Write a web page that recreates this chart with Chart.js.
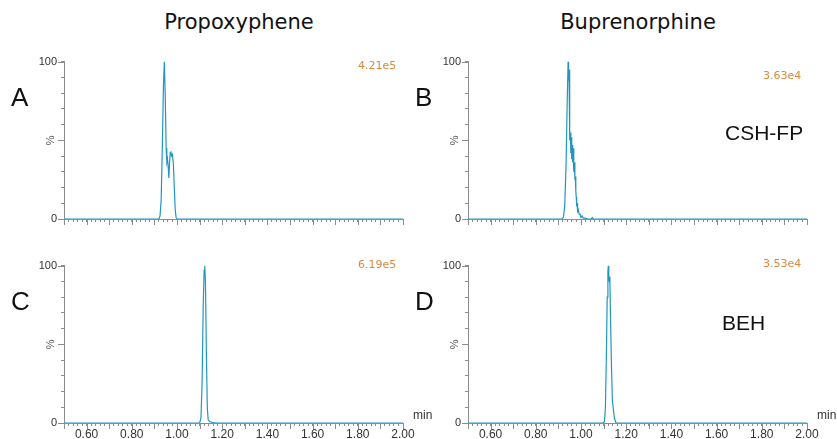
<!DOCTYPE html>
<html>
<head>
<meta charset="utf-8">
<script src="https://cdn.jsdelivr.net/npm/chart.js@4.4.1/dist/chart.umd.min.js"></script>
<style>
  body { margin: 0; background: #fff; width: 837px; height: 439px; overflow: hidden; position: relative; }
  .box { position: absolute; width: 420px; height: 184px; }
  .txt { position: absolute; white-space: nowrap; line-height: 1; }
  .head { font-family: "DejaVu Sans", sans-serif; font-size: 21px; color: #111; width: 220px; text-align: center; }
  .letter { font-family: "Liberation Sans", Arial, sans-serif; font-size: 26px; color: #111; }
  .col { font-family: "Liberation Sans", Arial, sans-serif; font-size: 21px; color: #111; }
  .inten { font-family: "DejaVu Sans", sans-serif; font-size: 11px; color: #d98a3d; }
  .min { font-family: "Liberation Sans", Arial, sans-serif; font-size: 12px; color: #333; }
</style>
</head>
<body>
<div class="box" style="left:0;top:51px"><canvas id="chartA"></canvas></div>
<div class="box" style="left:404px;top:51px"><canvas id="chartB"></canvas></div>
<div class="box" style="left:0;top:255px"><canvas id="chartC"></canvas></div>
<div class="box" style="left:404px;top:255px"><canvas id="chartD"></canvas></div>

<div class="txt head" style="left:129px;top:12px">Propoxyphene</div>
<div class="txt head" style="left:528px;top:12px">Buprenorphine</div>
<div class="txt letter" style="left:11px;top:84px">A</div>
<div class="txt letter" style="left:415px;top:84px">B</div>
<div class="txt letter" style="left:11px;top:288px">C</div>
<div class="txt letter" style="left:415px;top:288px">D</div>
<div class="txt col" style="left:725px;top:122px">CSH-FP</div>
<div class="txt col" style="left:722px;top:312px">BEH</div>
<div class="txt inten" style="left:358px;top:60px">4.21e5</div>
<div class="txt inten" style="left:763px;top:70px">3.63e4</div>
<div class="txt inten" style="left:358px;top:259px">6.19e5</div>
<div class="txt inten" style="left:763px;top:258px">3.53e4</div>
<div class="txt min" style="left:413px;top:409px">min</div>
<div class="txt min" style="left:817px;top:409px">min</div>

<script>
// retention time (min) and relative intensity (%) for each trace
const timeA = [0.50, 0.90, 0.920, 0.925, 0.930, 0.935, 0.940, 0.944, 0.948, 0.952, 0.955, 0.958, 0.961, 0.964, 0.967, 0.970, 0.973, 0.976, 0.980, 0.984, 0.988, 0.992, 0.996, 1.000, 1.05, 2.00];
const propoxCSH = [0, 0, 0, 2, 12, 45, 85, 100, 78, 45, 36, 38, 33, 26, 36, 42, 43, 40, 41, 35, 20, 6, 1, 0, 0, 0];

const timeB = [0.50, 0.915, 0.922, 0.928, 0.934, 0.939, 0.943, 0.945, 0.947, 0.949, 0.951, 0.953, 0.955, 0.957, 0.959, 0.961, 0.963, 0.965, 0.967, 0.969, 0.971, 0.973, 0.975, 0.977, 0.979, 0.981, 0.983, 0.985, 0.988, 0.992, 0.996, 1.000, 1.005, 1.010, 1.020, 1.030, 1.045, 1.050, 1.055, 1.070, 1.100, 2.00];
const bupreCSH = [0, 0, 1, 8, 35, 75, 100, 88, 95, 70, 50, 55, 42, 52, 38, 47, 36, 45, 38, 30, 36, 25, 27, 18, 14, 8, 10, 5, 6, 3, 3, 1, 2, 0.5, 0.5, 0, 0, 0.8, 0, 0, 0, 0];

const timeC = [0.50, 1.100, 1.106, 1.111, 1.116, 1.120, 1.123, 1.126, 1.130, 1.134, 1.138, 1.145, 1.160, 1.180, 2.00];
const propoxBEH = [0, 0, 3, 25, 75, 97, 100, 88, 45, 10, 2, 0.8, 0.3, 0, 0];

const timeD = [0.50, 1.098, 1.104, 1.108, 1.112, 1.116, 1.119, 1.121, 1.123, 1.125, 1.128, 1.131, 1.135, 1.139, 1.143, 1.148, 1.155, 2.00];
const bupreBEH = [0, 0, 1, 10, 40, 80, 96, 100, 90, 93, 88, 65, 35, 14, 9, 3, 0, 0];

const xMajor = [0.5, 0.6, 0.7, 0.8, 0.9, 1.0, 1.1, 1.2, 1.3, 1.4, 1.5, 1.6, 1.7, 1.8, 1.9, 2.0];
const yMajor = [0, 50, 100];

const LINE = '#2196bd';
const AXIS = '#8c8c8c';

// longer marks for the major ticks
const majorTicks = {
    id: 'majorTicks',
    afterDraw(chart) {
        const ctx = chart.ctx, a = chart.chartArea;
        const xs = chart.scales.x, ys = chart.scales.y;
        ctx.save();
        ctx.strokeStyle = AXIS;
        ctx.lineWidth = 1;
        ctx.beginPath();
        xMajor.forEach(v => {
            let px = Math.round(xs.getPixelForValue(v)) + 0.5;
            ctx.moveTo(px, a.bottom);
            ctx.lineTo(px, a.bottom + 6);
        });
        yMajor.forEach(v => {
            let py = Math.round(ys.getPixelForValue(v)) + 0.5;
            ctx.moveTo(a.left - 6, py);
            ctx.lineTo(a.left, py);
        });
        ctx.stroke();
        ctx.restore();
    }
};

function makeChart(id, times, values, showLabels) {
    let pts = times.map((t, i) => ({ x: t, y: values[i] }));
    new Chart(document.getElementById(id), {
        type: 'line',
        data: { datasets: [{ data: pts, borderColor: LINE, borderWidth: 1.2, pointRadius: 0, tension: 0, fill: false }] },
        options: {
            responsive: true,
            maintainAspectRatio: false,
            animation: false,
            layout: { padding: { top: 6, right: 17, left: 0, bottom: 0 } },
            plugins: { legend: { display: false }, tooltip: { enabled: false } },
            scales: {
                x: {
                    type: 'linear', min: 0.5, max: 2.0,
                    afterFit: s => { s.height = 16; },
                    border: { color: AXIS },
                    grid: { drawOnChartArea: false, drawTicks: true, tickLength: 3, color: AXIS },
                    ticks: {
                        stepSize: 0.02, autoSkip: false, maxRotation: 0, padding: 1,
                        color: '#333', font: { family: 'Liberation Sans', size: 12 },
                        callback: v => {
                            let n = Math.round(v * 100);
                            return (showLabels && n % 20 === 0 && n > 55) ? (n / 100).toFixed(2) : '';
                        }
                    }
                },
                y: {
                    min: 0, max: 100,
                    afterFit: s => { s.width = 64; },
                    border: { color: AXIS },
                    grid: { drawOnChartArea: false, drawTicks: true, tickLength: 3, color: AXIS },
                    title: { display: true, text: '%', color: '#555', font: { family: 'Liberation Sans', size: 11 }, padding: { top: 44, bottom: 0 } },
                    ticks: {
                        stepSize: 10, autoSkip: false, padding: 4,
                        color: '#333', font: { family: 'Liberation Sans', size: 11 },
                        callback: v => (v === 100 ? '100' : v === 0 ? '0' : '')
                    }
                }
            }
        },
        plugins: [majorTicks]
    });
}

makeChart('chartA', timeA, propoxCSH, false);
makeChart('chartB', timeB, bupreCSH, false);
makeChart('chartC', timeC, propoxBEH, true);
makeChart('chartD', timeD, bupreBEH, true);
</script>
</body>
</html>
